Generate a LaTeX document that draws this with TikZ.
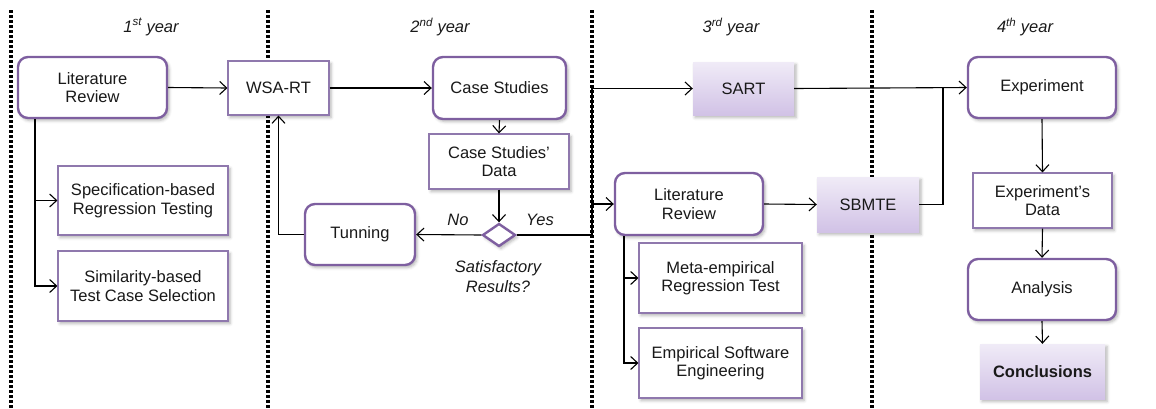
\documentclass[tikz,border=0pt]{standalone}
\usepackage{fontspec}
\setmainfont{Liberation Sans}
\usetikzlibrary{arrows.meta,shapes.geometric,shadows.blur}
\definecolor{purpleline}{HTML}{7E5FA0}
\definecolor{thinline}{HTML}{8F78AD}
\definecolor{shadetop}{HTML}{F0EBF7}
\definecolor{shadebot}{HTML}{D1C2E6}
\tikzset{
  txt/.style={font=\fontsize{16.5}{18.5}\selectfont, align=center, text=black!90},
  softshadow/.style={blur shadow={shadow xshift=2pt, shadow yshift=-2.5pt, shadow blur radius=3pt, shadow opacity=30}},
  roundbox/.style={txt, draw=purpleline, line width=2.4pt, rounded corners=10pt, fill=white, inner sep=0pt, softshadow},
  plainbox/.style={txt, draw=thinline, line width=1.1pt, fill=white, inner sep=0pt, softshadow},
  shadebox/.style={txt, top color=shadetop, bottom color=shadebot, draw=none, inner sep=0pt, softshadow},
  decision/.style={diamond, draw=purpleline, line width=2.4pt, fill=white, inner sep=0pt, minimum width=33pt, minimum height=23pt, softshadow},
  arr/.style={line width=1.1pt, -{Straight Barb[length=7pt,width=13pt,line width=1.1pt]}},
  conn/.style={line width=1.1pt},
  yearsep/.style={line width=3.4pt, dash pattern=on 3pt off 2pt},
  yearlabel/.style={font=\fontsize{16.5}{18.5}\selectfont\itshape, text=black!90},
  answer/.style={font=\fontsize{16.5}{18.5}\selectfont\itshape, text=black!90}
}
\begin{document}
\begin{tikzpicture}[x=1pt,y=-1pt]
\useasboundingbox (0,0) rectangle (1156,408);

% year separators
\foreach \xx/\nm in {11/s1,268/s2,592/s3,872/s4}{
  \coordinate (\nm top) at (\xx,10);
  \coordinate (\nm bot) at (\xx,408);
  \draw[yearsep] (\nm top) -- (\nm bot);
}

% year headings
\node[yearlabel] (y1) at (151,27) {1\textsuperscript{st} year};
\node[yearlabel] (y2) at (440,27) {2\textsuperscript{nd} year};
\node[yearlabel] (y3) at (731,27) {3\textsuperscript{rd} year};
\node[yearlabel] (y4) at (1025,27) {4\textsuperscript{th} year};

% first year
\node[roundbox, minimum width=149pt, minimum height=61pt] (lr1) at (92.5,87.5) {Literature\\Review};
\node[plainbox, minimum width=170pt, minimum height=69pt] (spec) at (143,200.5) {Specification-based\\Regression Testing};
\node[plainbox, minimum width=170pt, minimum height=70pt] (sim) at (143,286) {Similarity-based\\Test Case Selection};

% second year
\node[plainbox, minimum width=101pt, minimum height=54pt] (wsa) at (278.5,88) {WSA-RT};
\node[roundbox, minimum width=133pt, minimum height=62pt] (cs) at (499.5,88) {Case Studies};
\node[plainbox, minimum width=140pt, minimum height=55pt] (csd) at (499,161.5) {Case Studies’\\Data};
\node[decision] (dec) at (499,235) {};
\node[txt, font=\fontsize{16.5}{20}\selectfont\itshape] (sat) at (498,277) {Satisfactory\\Results?};
\node[roundbox, minimum width=110pt, minimum height=61pt] (tun) at (360,234.5) {Tunning};
\node[answer] (no) at (458,220) {No};
\node[answer] (yes) at (540,220) {Yes};

% third year
\node[shadebox, minimum width=101pt, minimum height=53pt] (sart) at (743.5,88.5) {SART};
\node[roundbox, minimum width=148pt, minimum height=62pt] (lr2) at (689,204) {Literature\\Review};
\node[shadebox, minimum width=102pt, minimum height=55pt] (sbmte) at (868,204.5) {SBMTE};
\node[plainbox, minimum width=163pt, minimum height=70pt] (meta) at (720.5,278) {Meta-empirical\\Regression Test};
\node[plainbox, minimum width=163pt, minimum height=70pt] (ese) at (720.5,363) {Empirical Software\\Engineering};

% fourth year
\node[roundbox, minimum width=148pt, minimum height=61pt] (exp) at (1042,87.5) {Experiment};
\node[plainbox, minimum width=139pt, minimum height=55pt] (expd) at (1042.5,200.5) {Experiment’s\\Data};
\node[roundbox, minimum width=148pt, minimum height=61pt] (ana) at (1042,289.5) {Analysis};
\node[shadebox, minimum width=125pt, minimum height=55pt, font=\fontsize{16.5}{18.5}\selectfont\bfseries] (conc) at (1042.5,371.5) {Conclusions};

% junction points
\coordinate (lrtrunk) at (35,286);
\coordinate (yesjoin) at (592,235);
\coordinate (lr2trunk) at (624,363);
\coordinate (expjoin) at (943,88);

% connectors, first year
\draw[arr] (lr1.east) -- (wsa.west);
\draw[conn] (lr1.south -| lrtrunk) -- (lrtrunk);
\draw[arr] (lr1.south -| lrtrunk) |- (spec.west);
\draw[arr] (lr1.south -| lrtrunk) |- (sim.west);

% connectors, second year
\draw[arr] (wsa.east) -- (cs.west);
\draw[arr] (cs.south) -- (csd.north);
\draw[arr] (csd.south) -- (dec.north);
\draw[arr] (dec.west) -- (tun.east);
\draw[arr] (tun.west) -| (wsa.south);
\draw[conn] (dec.east) -- (yesjoin);

% connectors, third year
\draw[arr] (yesjoin) |- (sart.west);
\draw[arr] (yesjoin |- lr2.west) -- (lr2.west);
\draw[arr] (lr2.east) -- (sbmte.west);
\draw[arr] (lr2.south -| lr2trunk) |- (meta.west);
\draw[arr] (lr2.south -| lr2trunk) |- (ese.west);

% connectors, fourth year
\draw[arr] (sart.east) -- (exp.west);
\draw[conn] (sbmte.east) -| (expjoin);
\draw[arr] (exp.south) -- (expd.north);
\draw[arr] (expd.south) -- (ana.north);
\draw[arr] (ana.south) -- (conc.north);
\end{tikzpicture}
\end{document}
